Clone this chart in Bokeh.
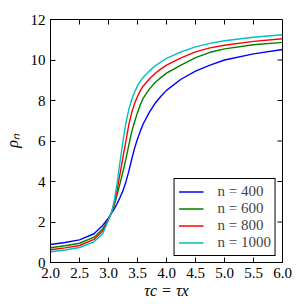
import math
from bokeh.plotting import figure
from bokeh.models import Range1d, FixedTicker, Legend, LegendItem
from bokeh.embed import file_html
from bokeh.resources import INLINE

# ---- data ----
tau = [2.0, 2.25, 2.5, 2.75, 2.9, 3.0, 3.05, 3.1, 3.15, 3.2, 3.25, 3.3, 3.35, 3.4,
       3.45, 3.5, 3.55, 3.6, 3.7, 3.8, 3.9, 4.0, 4.25, 4.5, 4.75, 5.0, 5.5, 6.0]

rho_400 = [0.89, 0.99, 1.12, 1.42, 1.83, 2.20, 2.42, 2.65, 2.92, 3.22, 3.55, 3.98, 4.50, 5.10,
           5.65, 6.10, 6.50, 6.85, 7.40, 7.85, 8.20, 8.50, 9.05, 9.45, 9.75, 10.00, 10.30, 10.52]
rho_600 = [0.73, 0.83, 0.95, 1.25, 1.66, 2.15, 2.45, 2.85, 3.35, 3.92, 4.50, 5.10, 5.80, 6.45,
           6.95, 7.40, 7.80, 8.12, 8.55, 8.88, 9.13, 9.35, 9.75, 10.12, 10.38, 10.55, 10.75, 10.87]
rho_800 = [0.63, 0.72, 0.84, 1.14, 1.55, 2.12, 2.45, 2.95, 3.60, 4.40, 5.20, 6.00, 6.80, 7.40,
           7.85, 8.20, 8.50, 8.72, 9.05, 9.33, 9.55, 9.75, 10.10, 10.40, 10.60, 10.73, 10.92, 11.05]
rho_1000 = [0.53, 0.62, 0.74, 1.02, 1.42, 2.10, 2.45, 3.05, 3.95, 5.00, 6.00, 6.90, 7.55, 8.05,
            8.42, 8.72, 8.96, 9.15, 9.45, 9.70, 9.90, 10.08, 10.40, 10.65, 10.82, 10.95, 11.12, 11.25]

series_labels = ["n = 400", "n = 600", "n = 800", "n = 1000"]
series_colors = ["#0000ff", "#008000", "#ff0000", "#00bfbf"]

x_ticks = [2.0, 2.5, 3.0, 3.5, 4.0, 4.5, 5.0, 5.5, 6.0]
x_tick_labels = ["2.0", "2.5", "3.0", "3.5", "4.0", "4.5", "5.0", "5.5", "6.0"]
y_ticks = [0, 2, 4, 6, 8, 10, 12]
y_tick_labels = ["0", "2", "4", "6", "8", "10", "12"]

x_label = "τc = τx"
y_label = "ρₙ"

FONT = "Liberation Serif"

p = figure(width=306, height=306,
           x_range=Range1d(x_ticks[0], x_ticks[-1]), y_range=Range1d(y_ticks[0], y_ticks[-1]),
           output_backend="svg", toolbar_location=None,
           min_border_left=48, min_border_right=24, min_border_top=19, min_border_bottom=44)
p.grid.visible = False
p.outline_line_color = "black"
p.outline_line_width = 1
p.outline_line_alpha = 1
p.background_fill_color = "white"
p.border_fill_color = "white"

p.xaxis.ticker = FixedTicker(ticks=x_ticks)
p.xaxis.major_label_overrides = {t: l for t, l in zip(x_ticks, x_tick_labels)}
p.yaxis.ticker = FixedTicker(ticks=y_ticks)
p.yaxis.major_label_overrides = {t: l for t, l in zip(y_ticks, y_tick_labels)}

for ax in list(p.xaxis) + list(p.yaxis):
    ax.axis_line_color = "black"
    ax.axis_line_width = 1
    ax.major_tick_in = 5
    ax.major_tick_out = 0
    ax.major_tick_line_color = "black"
    ax.minor_tick_line_color = None
    ax.major_label_text_font = FONT
    ax.major_label_text_font_size = "15px"
    ax.major_label_text_color = "black"
    ax.major_label_standoff = 5
    ax.axis_label_text_font = FONT
    ax.axis_label_text_font_size = "16px"
    ax.axis_label_text_font_style = "italic"
    ax.axis_label_text_color = "black"

p.xaxis.axis_label = x_label
p.xaxis.axis_label_standoff = 1
p.yaxis.axis_label = y_label
p.yaxis.axis_label_standoff = 7

# inward ticks on the top and right edges of the frame
p.ray(x=x_ticks, y=[y_ticks[-1]] * len(x_ticks), length=5, length_units="screen",
      angle=-math.pi / 2, line_color="black", line_width=1)
p.ray(x=[x_ticks[-1]] * len(y_ticks), y=y_ticks, length=5, length_units="screen",
      angle=math.pi, line_color="black", line_width=1)

items = []
for ys, lab_txt, col in zip([rho_400, rho_600, rho_800, rho_1000], series_labels, series_colors):
    r = p.line(tau, ys, line_color=col, line_width=1.4)
    items.append(LegendItem(label=lab_txt, renderers=[r]))

legend = Legend(items=items, location="bottom_right")
legend.margin = 6
legend.padding = 4
legend.spacing = 0
legend.glyph_width = 25
legend.glyph_height = 17
legend.label_height = 17
legend.label_standoff = 14
legend.label_text_font = FONT
legend.label_text_font_size = "15px"
legend.border_line_color = "black"
legend.border_line_width = 1
legend.border_line_alpha = 1
legend.background_fill_alpha = 1
p.add_layout(legend)

open("out.html", "w").write(file_html(p, INLINE))
